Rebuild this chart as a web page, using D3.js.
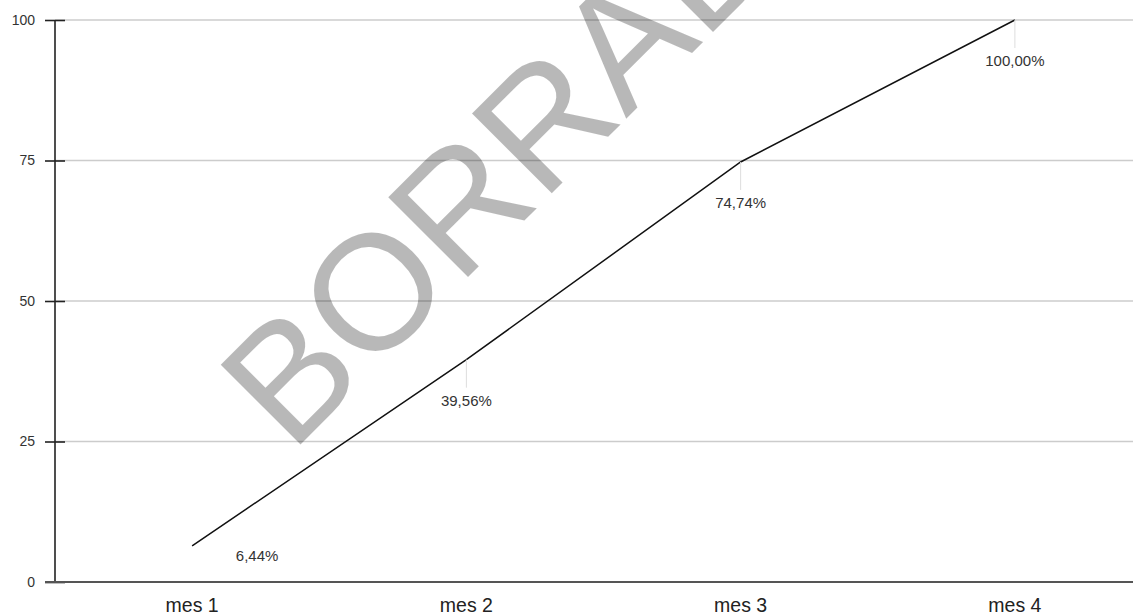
<!DOCTYPE html>
<html>
<head>
<meta charset="utf-8">
<script src="https://cdn.jsdelivr.net/npm/d3@7"></script>
<style>
  html, body { margin: 0; padding: 0; background: #fff; }
  svg { display: block; font-family: "Liberation Sans", Arial, sans-serif; }
</style>
</head>
<body>
<svg id="chart" width="1133" height="616"></svg>
<script>
const categories = ["mes 1", "mes 2", "mes 3", "mes 4"];
const values = [6.44, 39.56, 74.74, 100.00];
const valueLabels = ["6,44%", "39,56%", "74,74%", "100,00%"];
const yTicks = [0, 25, 50, 75, 100];
const watermark = "BORRADOR";

const W = 1133, H = 616;
const svg = d3.select("#chart");

const x = d3.scaleBand().domain(categories).range([55, 1152]);
const y = d3.scaleLinear().domain([0, 100]).range([582, 20]);
const cx = c => x(c) + x.bandwidth() / 2;

// gridlines
svg.append("g").selectAll("line").data(yTicks.filter(t => t > 0)).join("line")
  .attr("x1", 55).attr("x2", W)
  .attr("y1", d => y(d)).attr("y2", d => y(d))
  .attr("stroke", "#cccccc").attr("stroke-width", 1.3);

// y axis
const yAxis = d3.axisLeft(y).tickValues(yTicks).tickSize(0).tickPadding(20);
const gy = svg.append("g").attr("transform", "translate(55,0)").call(yAxis);
gy.select(".domain").remove();
gy.selectAll("text").attr("font-size", 14).attr("fill", "#333").attr("font-family", "Liberation Sans, Arial, sans-serif");
gy.selectAll(".tick").append("line")
  .attr("x1", -10).attr("x2", 10).attr("stroke", "#222").attr("stroke-width", 1.6);
svg.append("line").attr("x1", 55).attr("x2", 55).attr("y1", y(100)).attr("y2", y(0))
  .attr("stroke", "#222").attr("stroke-width", 1.6);

// x axis
const xAxis = d3.axisBottom(x).tickSize(0).tickPadding(16);
const gx = svg.append("g").attr("transform", `translate(0,${y(0)})`).call(xAxis);
gx.select(".domain").remove();
gx.selectAll("text").attr("font-size", 19.5).attr("fill", "#222").attr("font-family", "Liberation Sans, Arial, sans-serif");
svg.append("line").attr("x1", 45).attr("x2", W).attr("y1", y(0)).attr("y2", y(0))
  .attr("stroke", "#555").attr("stroke-width", 1.8);

// line
const pts = categories.map((c, i) => ({ c, v: values[i], label: valueLabels[i] }));
svg.append("path").datum(pts)
  .attr("fill", "none").attr("stroke", "#111").attr("stroke-width", 1.5)
  .attr("d", d3.line().x(d => cx(d.c)).y(d => y(d.v)));

// labels with connectors (labels that would hit the axis are moved to the right)
pts.forEach(d => {
  const px = cx(d.c), py = y(d.v);
  const g = svg.append("g");
  if (py + 45 > y(0)) {
    g.append("text").attr("x", px + 65).attr("y", py + 10).attr("dy", "0.35em")
      .attr("text-anchor", "middle").attr("font-size", 15).attr("fill", "#333").text(d.label);
  } else {
    g.append("line").attr("x1", px).attr("x2", px).attr("y1", py).attr("y2", py + 28)
      .attr("stroke", "#dddddd").attr("stroke-width", 1);
    g.append("text").attr("x", px).attr("y", py + 41).attr("dy", "0.35em")
      .attr("text-anchor", "middle").attr("font-size", 15).attr("fill", "#333").text(d.label);
  }
});

// watermark
svg.append("text")
  .attr("transform", "translate(291,454) rotate(-45)")
  .attr("font-size", 164).attr("fill", "#000").attr("fill-opacity", 0.28)
  .attr("font-family", "Liberation Sans, Arial, sans-serif")
  .text(watermark);
</script>
</body>
</html>
